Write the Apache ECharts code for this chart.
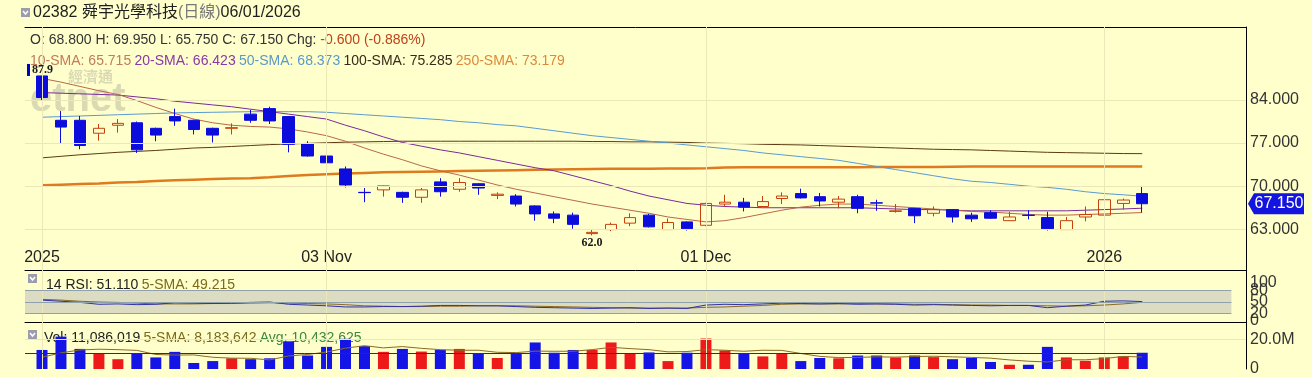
<!DOCTYPE html>
<html>
<head>
<meta charset="utf-8">
<script src="https://cdn.jsdelivr.net/npm/echarts@6.0.0/dist/echarts.min.js"></script>
<style>
html,body{margin:0;padding:0;background:#ffffcc;overflow:hidden;}
#chart{width:1312px;height:377px;}
</style>
</head>
<body>
<div id="chart"></div>
<script>
// ---------------- data ----------------
const dates = ['2025-10-10','2025-10-13','2025-10-14','2025-10-15','2025-10-16','2025-10-17','2025-10-20','2025-10-21','2025-10-22','2025-10-23',
'2025-10-24','2025-10-27','2025-10-28','2025-10-30','2025-10-31','2025-11-03','2025-11-04','2025-11-05','2025-11-06','2025-11-07',
'2025-11-10','2025-11-11','2025-11-12','2025-11-13','2025-11-14','2025-11-17','2025-11-18','2025-11-19','2025-11-20','2025-11-21',
'2025-11-24','2025-11-25','2025-11-26','2025-11-27','2025-11-28','2025-12-01','2025-12-02','2025-12-03','2025-12-04','2025-12-05',
'2025-12-08','2025-12-09','2025-12-10','2025-12-11','2025-12-12','2025-12-15','2025-12-16','2025-12-17','2025-12-18','2025-12-19',
'2025-12-22','2025-12-23','2025-12-24','2025-12-29','2025-12-30','2025-12-31','2026-01-02','2026-01-05','2026-01-06'];
const tickDates = ['2025-10-10','2025-11-03','2025-12-01','2026-01-02'];
const tickNames = ['2025','03 Nov','01 Dec','2026'];
const priceTicks = [63,70,77,84];
const rsiTicksA = [0,50,100];
const rsiTicksB = [20,80];
const volTicksM = [0,20];

const open  = [87.9,80.7,80.7,78.6,79.9,80.3,79.4,81.3,80.7,79.4, 79.4,81.7,82.6,81.3,76.9,74.9,72.8,69.0,69.4,69.0, 68.2,70.7,69.5,70.4,68.5,68.4,66.8,65.5,65.3,62.3, 62.95,64.0,65.3,62.95,64.2,63.65,67.1,67.4,66.7,68.0, 68.8,68.3,67.4,68.3,67.3,65.9,66.4,65.6,66.2,65.3, 65.7,64.4,65.3,64.9,62.95,65.0,65.3,67.2,68.8];
const close = [84.4,79.6,76.6,79.4,80.2,75.9,78.3,80.6,79.2,78.3, 79.5,80.7,80.6,76.8,74.9,73.8,70.2,68.95,70.05,68.2, 69.4,69.1,70.6,69.7,68.7,67.1,65.5,64.8,63.8,62.5, 63.8,64.9,63.4,64.1,63.1,67.2,67.4,66.6,67.5,68.4, 68.1,67.6,67.9,66.4,67.25,66.0,65.2,66.2,65.0,64.7, 64.8,65.0,65.25,63.1,64.4,65.4,67.8,67.75,67.15];
const low   = [84.0,76.9,76.0,77.4,78.7,75.4,77.3,79.8,78.4,77.1, 78.4,80.3,80.1,75.5,74.8,72.4,69.8,67.4,68.3,67.3, 67.3,68.3,69.1,68.6,67.9,66.7,64.4,64.0,63.1,62.0, 62.7,63.5,63.3,62.9,62.8,63.5,66.7,65.9,66.6,67.1, 68.0,66.7,66.4,65.6,66.0,65.7,64.0,65.1,64.1,64.2, 64.7,64.4,64.6,62.8,62.9,64.3,64.75,66.2,65.75];
const high  = [87.9,82.2,81.4,80.1,80.9,80.5,79.5,82.6,80.8,79.5, 80.2,82.4,82.9,81.4,77.3,75.0,73.2,69.7,70.1,69.1, 69.7,71.3,71.3,70.5,69.0,68.7,66.9,65.9,65.7,62.9, 64.1,65.6,65.5,64.75,64.3,67.3,68.6,68.1,68.4,69.0, 69.6,68.9,68.4,68.6,67.8,67.1,66.5,66.7,66.3,65.7, 66.1,65.85,66.1,65.85,65.0,66.7,67.8,68.0,69.95];

const volumeM = [13.0,22.1,13.7,10.5,6.7,10.7,7.9,11.7,4.1,5.4, 7.3,6.7,7.3,18.9,9.2,15.1,20.6,15.6,11.7,13.7, 11.9,13.0,13.7,10.7,7.5,10.7,18.1,11.1,13.0,13.0, 18.1,10.7,11.3,5.4,11.1,20.8,12.6,10.7,8.6,10.7, 5.4,7.5,7.3,9.2,9.2,7.9,9.2,8.1,6.7,7.5, 4.8,2.9,2.9,15.1,7.9,5.6,7.9,8.6,11.086019];
const volSma5M = [8.0,11.0,13.0,13.5,13.2,12.7,9.9,9.5,9.6,8.0, 7.4,7.3,6.2,8.9,9.9,11.6,14.2,15.9,14.4,15.3, 14.1,13.2,12.8,12.8,11.4,11.2,12.2,12.1,12.1,13.2, 14.8,13.9,13.2,11.7,11.9,13.2,12.8,12.1,12.8,12.7, 10.6,8.6,7.8,7.9,8.3,8.1,8.5,8.7,8.3,7.9, 7.4,6.2,5.3,4.8,6.3,6.3,7.1,8.6,8.183642];
const volAvgM = 10.432625;

const sma10  = [87.5,86.9,86.2,85.5,84.9,83.9,82.8,81.8,80.9,80.3, 79.9,79.7,79.6,79.3,78.8,78.2,77.3,76.2,75.2,74.3, 73.3,72.5,71.8,71.0,70.2,69.5,68.9,68.3,67.7,67.1, 66.6,66.1,65.6,65.0,64.6,64.2,64.4,64.9,65.5,66.1, 66.6,66.9,67.1,67.1,66.9,66.7,66.5,66.3,66.1,65.9, 65.8,65.6,65.4,65.3,65.3,65.4,65.5,65.6,65.715];
const sma20  = [85.2,85.1,85.0,84.9,84.8,84.5,84.2,83.8,83.5,83.2, 82.9,82.5,82.1,81.7,81.3,80.9,79.9,79.0,78.0,77.1, 76.5,75.9,75.4,74.8,74.2,73.6,73.0,72.5,71.7,70.9, 70.1,69.2,68.4,67.8,67.2,66.9,66.7,66.6,66.5,66.5, 66.5,66.5,66.5,66.5,66.4,66.3,66.2,66.2,66.1,66.0, 66.0,66.0,66.0,66.0,66.0,66.1,66.2,66.3,66.423];
const sma50  = [81.2,81.3,81.4,81.5,81.6,81.7,81.8,81.9,81.95,82.0, 82.05,82.1,82.1,82.1,82.1,82.0,81.8,81.6,81.4,81.2, 81.0,80.8,80.5,80.3,80.0,79.8,79.4,79.0,78.6,78.2, 77.9,77.6,77.3,77.0,76.7,76.4,76.1,75.8,75.4,75.1, 74.8,74.5,74.2,73.7,73.2,72.7,72.2,71.7,71.2,70.8, 70.6,70.3,70.0,69.8,69.5,69.1,68.8,68.6,68.373];
const sma100 = [74.6,74.85,75.1,75.3,75.5,75.65,75.8,76.0,76.2,76.3, 76.45,76.6,76.75,76.85,76.95,77.05,77.15,77.2,77.25,77.3, 77.3,77.3,77.3,77.3,77.3,77.3,77.3,77.3,77.3,77.25, 77.25,77.2,77.2,77.15,77.1,77.0,76.95,76.9,76.8,76.75, 76.7,76.6,76.5,76.4,76.3,76.2,76.1,76.0,75.95,75.9, 75.8,75.7,75.6,75.5,75.45,75.4,75.35,75.3,75.285];
const sma250 = [70.15,70.25,70.35,70.45,70.6,70.7,70.85,70.95,71.05,71.15, 71.25,71.3,71.45,71.65,71.8,71.95,72.05,72.15,72.25,72.3, 72.35,72.4,72.45,72.5,72.55,72.6,72.65,72.7,72.75,72.8, 72.82,72.84,72.85,72.86,72.87,72.9,73.05,73.07,73.07,73.08, 73.08,73.08,73.09,73.09,73.1,73.1,73.1,73.12,73.15,73.18, 73.2,73.2,73.19,73.19,73.18,73.18,73.18,73.18,73.179];

const rsi14   = [55,52,49,44,45,43,44,48,47,46, 47,49,50,44,42,40,37,37,38,38, 39,41,41,40,40,38,36,35,34,33, 34,35,33,34,33,42,44,43,45,47, 46,45,46,44,45,44,42,43,42,41, 40,41,41,35,39,42,52,53,51.11];
const rsiSma5 = [57,55,52,50,49,47,45,45,45,46, 46,47,48,47,46,45,43,40,39,38, 38,39,39,40,40,40,39,38,37,36, 35,34,34,34,34,36,37,39,41,44, 45,45,45,46,45,45,44,44,43,42, 42,41,41,40,39,40,42,45,49.215];

// ---------------- chart ----------------
const FONT = "'Liberation Sans', Arial, 'Noto Sans CJK TC', sans-serif";
const BG = '#ffffcc';
const GRIDC = '#ebe7b8';
const UP = '#c8400c', DOWN = '#0c0cdc';
const X_MIN = -0.896, X_MAX = 63.47;
const L = 25, R = 66;
const n = dates.length, last = n - 1;
const tickIdx = tickDates.map(d => dates.indexOf(d));
const xy = arr => arr.map((v, i) => [i, v]);
const fmt = (v, d) => v.toFixed(d);
const commas = v => Math.round(v).toString().replace(/\B(?=(\d{3})+(?!\d))/g, ',');

let hiIdx = 0, loIdx = 0;
high.forEach((v, i) => { if (v > high[hiIdx]) hiIdx = i; });
low.forEach((v, i) => { if (v < low[loIdx]) loIdx = i; });
const chg = close[last] - close[last - 1];
const pct = chg / close[last - 1] * 100;

function xAx(gi, extra) {
  return Object.assign({
    type: 'value', gridIndex: gi, min: X_MIN, max: X_MAX,
    axisLine: { show: false, onZero: false }, axisTick: { show: false },
    axisLabel: { show: false }, splitLine: { show: false }
  }, extra || {});
}
function yAx(gi, min, max, ticks, formatter, showLine) {
  return {
    type: 'value', gridIndex: gi, position: 'right', offset: 0, min, max,
    axisLine: { show: showLine !== false, onZero: false, lineStyle: { color: '#000', width: 1 } },
    axisTick: { show: false }, splitLine: { show: false },
    axisLabel: { customValues: ticks, formatter, color: '#333', fontSize: 16, fontFamily: FONT, margin: 4,
      showMinLabel: true, showMaxLabel: true, hideOverlap: false }
  };
}
function lineS(data, color, width, xi, yi, z) {
  return { type: 'line', xAxisIndex: xi, yAxisIndex: yi, data: xy(data), symbol: 'none', showSymbol: false,
    lineStyle: { color, width }, z: z || 3, silent: true, animation: false };
}
function gridLines(xi, yi, yVals) {
  return { type: 'line', xAxisIndex: xi, yAxisIndex: yi, data: [], z: 1, silent: true,
    markLine: { silent: true, symbol: 'none', animation: false, label: { show: false },
      lineStyle: { color: GRIDC, width: 1, type: 'solid' },
      data: [...yVals.map(v => ({ yAxis: v })), ...tickIdx.map(i => ({ xAxis: i }))] } };
}

const candleData = dates.map((d, i) => [i, open[i], close[i], low[i], high[i]]);
const volData = volumeM.map((v, i) => ({ value: [i, v], itemStyle: { color: close[i] >= open[i] ? '#ee1a1a' : '#1414e6' } }));
const bandEnd = 62.7;

const option = {
  backgroundColor: BG,
  animation: false,
  grid: [
    { left: L, right: R, top: 27, height: 243 },
    { left: L, right: R, top: 270, height: 52 },
    { left: L, right: R, top: 322, height: 50.5 }
  ],
  xAxis: [
    xAx(0, { axisLine: { show: true, onZero: false, lineStyle: { color: '#000' } },
      axisLabel: { show: true, inside: true, margin: 4, customValues: tickIdx, fontSize: 16, fontFamily: FONT, color: '#222',
        showMinLabel: true, showMaxLabel: true, hideOverlap: false,
        formatter: v => tickNames[tickIdx.indexOf(Math.round(v))] || '' } }),
    xAx(1, { axisLine: { show: true, onZero: false, lineStyle: { color: '#000' } } }),
    xAx(2),
    xAx(0, { position: 'top', axisLine: { show: true, onZero: false, lineStyle: { color: '#000' } } })
  ],
  yAxis: [
    yAx(0, 56.39, 95.85, priceTicks, v => fmt(v, 3)),
    yAx(1, -2.6, 134.2, rsiTicksA, v => String(v)),
    yAx(2, 0, 32.06, volTicksM, v => v === 0 ? '0' : fmt(v, 1) + 'M'),
    yAx(1, -2.6, 134.2, rsiTicksB, v => String(v), false)
  ],
  series: [
    gridLines(0, 0, priceTicks),
    gridLines(2, 2, [20]),
    gridLines(1, 1, []),
    lineS(sma250, '#e07a1e', 2.5, 0, 0, 2),
    lineS(sma100, '#5c3a14', 1, 0, 0, 2),
    lineS(sma50, '#5a9ad2', 1, 0, 0, 2),
    lineS(sma20, '#7a2a9c', 1, 0, 0, 2),
    lineS(sma10, '#b8684a', 1, 0, 0, 2),
    {
      type: 'candlestick', xAxisIndex: 0, yAxisIndex: 0, z: 4,
      data: candleData, encode: { x: 0, y: [1, 2, 3, 4] },
      barWidth: 12,
      itemStyle: { color: 'rgba(0,0,0,0)', color0: DOWN, borderColor: UP, borderColor0: DOWN, borderWidth: 1 },
      markPoint: {
        animation: false, silent: true,
        data: [
          { coord: [hiIdx, high[hiIdx]], symbol: 'rect', symbolSize: 0,
            label: { show: true, position: 'top', distance: 0, offset: [-2, 0],
              formatter: '{b|}{t|' + fmt(high[hiIdx], 1) + '}',
              rich: { b: { backgroundColor: '#0000cc', width: 3, height: 12 },
                t: { fontFamily: "'Liberation Serif', serif", fontWeight: 'bold', fontSize: 12, color: '#1a1a1a', padding: [0, 0, 0, 2] } } } },
          { coord: [loIdx, low[loIdx]], symbol: 'rect', symbolSize: 0,
            label: { show: true, position: 'bottom', distance: 1, formatter: fmt(low[loIdx], 1),
              fontFamily: "'Liberation Serif', serif", fontWeight: 'bold', fontSize: 12, color: '#1a1a1a' } },
          { coord: [X_MAX, close[last]], symbol: 'path://M0,10 L6,0 L56,0 L56,20 L6,20 Z', symbolKeepAspect: false,
            symbolSize: [56, 21], symbolOffset: [30, 0], itemStyle: { color: '#1414e0' },
            label: { show: true, position: 'inside', offset: [3, 0], formatter: fmt(close[last], 3), color: '#fff', fontSize: 16, fontFamily: FONT } }
        ]
      }
    },
    {
      type: 'line', xAxisIndex: 1, yAxisIndex: 1, data: [], z: 1, silent: true,
      markArea: { silent: true, itemStyle: { color: '#dcdcc2' }, data: [[{ xAxis: X_MIN, yAxis: 20 }, { xAxis: bandEnd, yAxis: 80 }]] },
      markLine: { silent: true, symbol: 'none', animation: false, label: { show: false },
        lineStyle: { color: '#8fa2ac', width: 1, type: 'solid' },
        data: [20, 50, 80].map(v => [{ xAxis: X_MIN, yAxis: v }, { xAxis: bandEnd, yAxis: v }]) }
    },
    lineS(rsiSma5, '#8a6a22', 1, 1, 1, 3),
    lineS(rsi14, '#3030a8', 1, 1, 1, 3),
    {
      type: 'bar', xAxisIndex: 2, yAxisIndex: 2, data: volData, barWidth: 11, z: 2, silent: true
    },
    Object.assign(lineS(volSma5M, '#8a6a22', 1, 2, 2, 4), {
      markLine: { silent: true, symbol: 'none', animation: false, label: { show: false },
        lineStyle: { color: '#2a3a24', width: 1, type: 'solid' },
        data: [[{ xAxis: X_MIN, yAxis: volAvgM }, { xAxis: last, yAxis: volAvgM }]] }
    })
  ],
  graphic: [
    // watermark
    { type: 'text', x: 68, y: 76, z: 0, silent: true, style: { text: '經濟通', fill: 'rgba(170,170,150,0.45)', font: "bold 15px 'Noto Sans CJK TC'", verticalAlign: 'middle' } },
    { type: 'text', x: 30, y: 100, z: 0, silent: true, style: { text: 'etnet', fill: 'rgba(170,170,150,0.45)', font: "bold 40px 'Liberation Sans'", verticalAlign: 'middle' } },
    // title
    { type: 'rect', x: 21, y: 8, shape: { width: 9, height: 9 }, style: { fill: '#9c9cac' } },
    { type: 'polyline', shape: { points: [[23, 11], [25.5, 14], [28, 11]] }, style: { stroke: '#fff', lineWidth: 1.5, fill: null } },
    { type: 'text', x: 33, y: 13, style: { text: '{a|02382 舜宇光學科技}{g|(日線)}{a|06/01/2026}', verticalAlign: 'middle',
      rich: { a: { fontSize: 16, fontFamily: FONT, fill: '#1e1e1e' }, g: { fontSize: 16, fontFamily: FONT, fill: '#777' } } } },
    { type: 'text', x: 30, y: 40, style: { verticalAlign: 'middle',
      text: '{k|O: ' + fmt(open[last], 3) + ' H: ' + fmt(high[last], 3) + ' L: ' + fmt(low[last], 3) + ' C: ' + fmt(close[last], 3) + ' Chg: }{r|' + fmt(chg, 3) + ' (' + fmt(pct, 3) + '%)}',
      rich: { k: { fontSize: 14, fontFamily: FONT, fill: '#333' }, r: { fontSize: 14, fontFamily: FONT, fill: '#c0401a' } } } },
    { type: 'text', x: 30, y: 61, style: { verticalAlign: 'middle',
      text: '{a|10-SMA: ' + fmt(sma10[last], 3) + '} {b|20-SMA: ' + fmt(sma20[last], 3) + '} {c|50-SMA: ' + fmt(sma50[last], 3) + '} {d|100-SMA: ' + fmt(sma100[last], 3) + '} {e|250-SMA: ' + fmt(sma250[last], 3) + '}',
      rich: { a: { fontSize: 14, fontFamily: FONT, fill: '#c47a5c' }, b: { fontSize: 14, fontFamily: FONT, fill: '#8a3aa8' },
        c: { fontSize: 14, fontFamily: FONT, fill: '#5a9ac8' }, d: { fontSize: 14, fontFamily: FONT, fill: '#3a2a1a' }, e: { fontSize: 14, fontFamily: FONT, fill: '#e0883a' } } } },
    // RSI header
    { type: 'rect', x: 28, y: 274, shape: { width: 9, height: 9 }, style: { fill: '#9c9cac' } },
    { type: 'polyline', shape: { points: [[30, 277], [32.5, 280], [35, 277]] }, style: { stroke: '#fff', lineWidth: 1.5, fill: null } },
    { type: 'text', x: 46, y: 285, style: { verticalAlign: 'middle',
      text: '{a|14 RSI: ' + fmt(rsi14[last], 3) + '} {b|5-SMA: ' + fmt(rsiSma5[last], 3) + '}',
      rich: { a: { fontSize: 14, fontFamily: FONT, fill: '#222' }, b: { fontSize: 14, fontFamily: FONT, fill: '#7a6a1a' } } } },
    // Volume header
    { type: 'rect', x: 28, y: 330, shape: { width: 9, height: 9 }, style: { fill: '#9c9cac' } },
    { type: 'polyline', shape: { points: [[30, 333], [32.5, 336], [35, 333]] }, style: { stroke: '#fff', lineWidth: 1.5, fill: null } },
    { type: 'text', x: 44, y: 338, style: { verticalAlign: 'middle',
      text: '{a|Vol: ' + commas(volumeM[last] * 1e6) + '} {b|5-SMA: ' + commas(volSma5M[last] * 1e6) + '} {c|Avg: ' + commas(volAvgM * 1e6) + '}',
      rich: { a: { fontSize: 14, fontFamily: FONT, fill: '#222' }, b: { fontSize: 14, fontFamily: FONT, fill: '#7a6a1a' }, c: { fontSize: 14, fontFamily: FONT, fill: '#3a8a3a' } } } }
  ]
};
const chart = echarts.init(document.getElementById('chart'));
chart.setOption(option);
</script>
</body>
</html>
